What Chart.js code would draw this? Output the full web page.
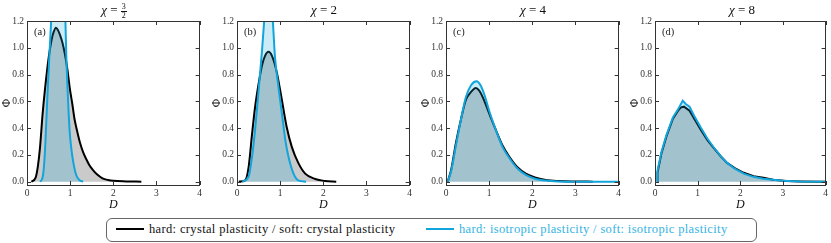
<!DOCTYPE html>
<html>
<head>
<meta charset="utf-8">
<script src="https://cdn.jsdelivr.net/npm/chart.js@4.4.1/dist/chart.umd.min.js"></script>
<style>
  body { margin: 0; background: #fff; font-family: "Liberation Serif", serif; }
  #wrap { position: relative; width: 831px; height: 243px; overflow: hidden; }
  canvas { position: absolute; top: 0; }
  .ttl { position: absolute; top: 1px; width: 174px; text-align: center; font-size: 13px; color: #111; line-height: 18px; }
  .frac { display: inline-block; vertical-align: middle; text-align: center; font-size: 8px; line-height: 8px; }
  .frac span { display: block; }
  .frac .num { border-bottom: 0.8px solid #111; padding: 0 1px; }
  .lbl { position: absolute; top: 26px; font-size: 10.5px; color: #222; }
  #legend { position: absolute; left: 106px; top: 218px; width: 649px; height: 22px; border: 1px solid #666; border-radius: 6px;
            font-size: 12.5px; letter-spacing: 0.35px; }
  .item { position: absolute; top: 3px; white-space: nowrap; }
  .item i { display: inline-block; width: 28px; height: 2px; vertical-align: middle; margin-right: 5px; position: relative; top: -1px; }
</style>
</head>
<body>
<div id="wrap">
  <div id="legend">
    <div class="item" style="left:9px"><i style="background:#000"></i><span style="color:#111">hard: crystal plasticity / soft: crystal plasticity</span></div>
    <div class="item" style="left:319px"><i style="background:#12a5dc"></i><span style="color:#33b3e3">hard: isotropic plasticity / soft: isotropic plasticity</span></div>
  </div>
</div>
<script>
// panel titles and letters
const panelNames = ['(a)', '(b)', '(c)', '(d)'];
const chiValues = ['3/2', '2', '4', '8'];

// shared ticks
const xTicks = [0, 1, 2, 3, 4];
const yTicks = [0, 0.2, 0.4, 0.6, 0.8, 1.0, 1.2];

// (a) chi = 3/2
const dA_crystal = [0.10, 0.20, 0.25, 0.30, 0.36, 0.42, 0.50, 0.57, 0.62, 0.67, 0.72, 0.76, 0.82, 0.88, 0.94, 0.99, 1.05, 1.10, 1.16, 1.22, 1.30, 1.37, 1.45, 1.52, 1.62, 1.75, 1.88, 2.00, 2.30, 2.65];
const phiA_crystal = [0.00, 0.03, 0.11, 0.25, 0.50, 0.70, 0.92, 1.06, 1.12, 1.15, 1.13, 1.10, 1.04, 0.95, 0.83, 0.70, 0.58, 0.47, 0.38, 0.30, 0.22, 0.17, 0.12, 0.09, 0.055, 0.025, 0.012, 0.006, 0.002, 0.0];
const dA_iso = [0.30, 0.35, 0.38, 0.42, 0.47, 0.52, 0.56, 0.62, 0.68, 0.72, 0.78, 0.84, 0.89, 0.91, 0.95, 0.99, 1.03, 1.07, 1.14, 1.22, 1.30];
const phiA_iso = [0.00, 0.02, 0.07, 0.25, 0.62, 0.95, 1.20, 1.50, 1.70, 1.75, 1.68, 1.45, 1.20, 0.95, 0.62, 0.37, 0.24, 0.15, 0.05, 0.01, 0.00];

// (b) chi = 2
const dB_crystal = [0.04, 0.19, 0.27, 0.35, 0.42, 0.50, 0.58, 0.65, 0.73, 0.81, 0.92, 1.04, 1.15, 1.27, 1.42, 1.58, 1.81, 2.04, 2.30];
const phiB_crystal = [0.00, 0.01, 0.11, 0.36, 0.56, 0.73, 0.87, 0.94, 0.97, 0.94, 0.82, 0.61, 0.41, 0.26, 0.14, 0.06, 0.02, 0.005, 0.0];
const dB_iso = [0.12, 0.27, 0.35, 0.42, 0.50, 0.58, 0.63, 0.68, 0.73, 0.78, 0.83, 0.88, 0.96, 1.04, 1.12, 1.19, 1.31, 1.42, 1.60];
const phiB_iso = [0.00, 0.04, 0.19, 0.39, 0.68, 0.98, 1.20, 1.38, 1.45, 1.40, 1.20, 0.93, 0.71, 0.51, 0.31, 0.19, 0.06, 0.01, 0.0];

// (c) chi = 4
const dC_crystal = [0.04, 0.12, 0.23, 0.35, 0.46, 0.58, 0.69, 0.77, 0.88, 1.00, 1.15, 1.31, 1.46, 1.65, 1.85, 2.08, 2.31, 2.60, 3.00, 3.40];
const phiC_crystal = [0.00, 0.09, 0.29, 0.47, 0.61, 0.67, 0.70, 0.68, 0.61, 0.51, 0.39, 0.27, 0.19, 0.11, 0.06, 0.03, 0.012, 0.004, 0.001, 0.0];
const dC_iso = [0.04, 0.12, 0.23, 0.35, 0.46, 0.58, 0.71, 0.80, 0.90, 1.00, 1.15, 1.31, 1.46, 1.65, 1.85, 2.08, 2.31, 2.60, 3.00, 4.00];
const phiC_iso = [0.00, 0.08, 0.27, 0.47, 0.63, 0.72, 0.75, 0.72, 0.64, 0.53, 0.39, 0.26, 0.18, 0.10, 0.05, 0.02, 0.008, 0.002, 0.0, 0.0];

// (d) chi = 8
const dD_crystal = [0.05, 0.06, 0.15, 0.27, 0.42, 0.54, 0.61, 0.68, 0.81, 0.92, 1.08, 1.23, 1.38, 1.54, 1.69, 1.88, 2.08, 2.31, 2.54, 2.77, 3.08, 3.40, 4.00];
const phiD_crystal = [0.00, 0.07, 0.21, 0.34, 0.47, 0.53, 0.555, 0.56, 0.53, 0.47, 0.385, 0.31, 0.25, 0.19, 0.14, 0.10, 0.066, 0.041, 0.029, 0.014, 0.005, 0.002, 0.0];
const dD_iso = [0.05, 0.06, 0.15, 0.27, 0.42, 0.54, 0.65, 0.72, 0.81, 0.92, 1.08, 1.23, 1.38, 1.54, 1.69, 1.88, 2.08, 2.31, 2.54, 2.77, 3.00, 3.40, 4.00];
const phiD_iso = [0.00, 0.085, 0.22, 0.35, 0.48, 0.54, 0.605, 0.58, 0.56, 0.49, 0.40, 0.32, 0.255, 0.19, 0.14, 0.095, 0.06, 0.036, 0.022, 0.014, 0.007, 0.002, 0.0];

const panels = [
  { crystal: [dA_crystal, phiA_crystal], iso: [dA_iso, phiA_iso], smooth: true },
  { crystal: [dB_crystal, phiB_crystal], iso: [dB_iso, phiB_iso], smooth: true },
  { crystal: [dC_crystal, phiC_crystal], iso: [dC_iso, phiC_iso], smooth: true },
  { crystal: [dD_crystal, phiD_crystal], iso: [dD_iso, phiD_iso], smooth: false }
];

const plotLefts = [27, 237, 446, 655];
const plotWidth = 174;
const serif = '"Liberation Serif", serif';

const toPoints = (xs, ys) => xs.map((x, i) => ({ x: x, y: ys[i] }));

// inward ticks on all four sides plus the frame
const frameTicks = {
  id: 'frameTicks',
  afterDraw(chart) {
    const { ctx, chartArea: a, scales } = chart;
    ctx.save();
    ctx.strokeStyle = '#333';
    ctx.lineWidth = 1;
    ctx.beginPath();
    scales.x.ticks.forEach(t => {
      const px = Math.round(scales.x.getPixelForValue(t.value)) + 0.5;
      ctx.moveTo(px, a.bottom); ctx.lineTo(px, a.bottom - 4);
      ctx.moveTo(px, a.top); ctx.lineTo(px, a.top + 4);
    });
    scales.y.ticks.forEach(t => {
      const py = Math.round(scales.y.getPixelForValue(t.value)) + 0.5;
      ctx.moveTo(a.left, py); ctx.lineTo(a.left + 4, py);
      ctx.moveTo(a.right, py); ctx.lineTo(a.right - 4, py);
    });
    ctx.stroke();
    ctx.strokeRect(Math.round(a.left) + 0.5, Math.round(a.top) + 0.5, Math.round(a.width) - 1, Math.round(a.height));
    ctx.restore();
  }
};

const wrap = document.getElementById('wrap');

panels.forEach((p, i) => {
  const left = plotLefts[i] - 27;
  const cv = document.createElement('canvas');
  const w = i === 3 ? 831 - left : 205;
  cv.width = w; cv.height = 212;
  cv.style.left = left + 'px';
  wrap.appendChild(cv);

  // title
  const t = document.createElement('div');
  t.className = 'ttl';
  t.style.left = plotLefts[i] + 'px';
  const chi = chiValues[i];
  if (chi.includes('/')) {
    const [n, d] = chi.split('/');
    t.innerHTML = '<i>χ</i> = <span class="frac"><span class="num">' + n + '</span><span>' + d + '</span></span>';
  } else {
    t.innerHTML = '<i>χ</i> = ' + chi;
  }
  wrap.appendChild(t);

  const l = document.createElement('div');
  l.className = 'lbl';
  l.style.left = (plotLefts[i] + 7) + 'px';
  l.textContent = panelNames[i];
  wrap.appendChild(l);

  const tension = p.smooth ? 0.4 : 0;
  new Chart(cv, {
    type: 'line',
    data: {
      datasets: [
        {
          label: 'hard: isotropic plasticity / soft: isotropic plasticity',
          data: toPoints(p.iso[0], p.iso[1]),
          borderColor: '#12a5dc',
          backgroundColor: 'rgba(18,165,220,0.22)',
          borderWidth: 2,
          fill: 'origin',
          pointRadius: 0,
          tension: tension,
          cubicInterpolationMode: p.smooth ? 'monotone' : 'default'
        },
        {
          label: 'hard: crystal plasticity / soft: crystal plasticity',
          data: toPoints(p.crystal[0], p.crystal[1]),
          borderColor: '#000',
          backgroundColor: 'rgba(128,128,128,0.42)',
          borderWidth: 2,
          fill: 'origin',
          pointRadius: 0,
          tension: tension,
          cubicInterpolationMode: p.smooth ? 'monotone' : 'default'
        }
      ]
    },
    options: {
      responsive: false,
      animation: false,
      devicePixelRatio: 1,
      layout: { padding: { left: 0, right: w - 27 - plotWidth, top: 21, bottom: 0 } },
      plugins: { legend: { display: false }, tooltip: { enabled: false } },
      scales: {
        x: {
          type: 'linear', min: 0, max: 4,
          afterFit: s => { s.height = 27; },
          afterBuildTicks: s => { s.ticks = xTicks.map(v => ({ value: v })); },
          grid: { display: false, drawTicks: false },
          border: { display: false },
          ticks: { padding: 3, color: '#333', font: { family: serif, size: 9.5 }, callback: v => String(v), maxRotation: 0 },
          title: { display: true, text: 'D', color: '#111', padding: 0, font: { family: serif, size: 12, style: 'italic' } }
        },
        y: {
          type: 'linear', min: -0.025, max: 1.2,
          afterFit: s => { s.width = 27; },
          afterBuildTicks: s => { s.ticks = yTicks.map(v => ({ value: v })); },
          grid: { display: false, drawTicks: false },
          border: { display: false },
          ticks: { padding: 3, color: '#333', font: { family: serif, size: 9.5 }, callback: v => v.toFixed(1) },
          title: { display: true, text: 'Φ', color: '#111', padding: 0, font: { family: serif, size: 11.5 } }
        }
      }
    },
    plugins: [frameTicks]
  });
});
</script>
</body>
</html>
